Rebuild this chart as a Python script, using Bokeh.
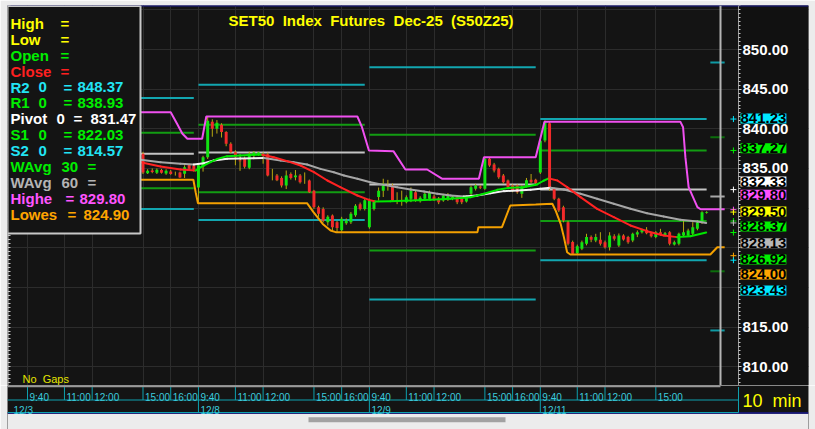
from bokeh.plotting import figure
from bokeh.layouts import column
from bokeh.models import (Range1d, FixedTicker, Grid, Span, Label, BoxAnnotation,
                          PrintfTickFormatter, LinearAxis)
from bokeh.core.properties import value
from bokeh.embed import file_html
from bokeh.resources import INLINE

# ======================= DATA =======================
NB = "\u00a0"
TITLE = f"SET50 {NB}Index {NB}Futures {NB}Dec-25 {NB}(S50Z25)"
BAR_LABEL = f"10 {NB}min"
GAP_LABEL = f"No {NB}Gaps"

# 10-minute OHLC bars, 37 bars per session day
opens_1203 = [838.5, 839.3, 840.1, 840.9, 841.6, 840.8, 839.9, 840.2, 839.3, 838.6,
              839.0, 838.1, 838.3, 837.4, 837.7, 836.8, 837.1, 836.2, 836.6, 837.2,
              836.7, 836.1, 836.5, 837.0, 836.6, 836.85, 834.4, 834.75, 834.45, 834.8,
              834.35, 834.6, 834.4, 834.5, 834.32, 835.46, 835.37]
highs_1203 = [839.6, 840.4, 841.2, 842.1, 841.9, 841.0, 840.5, 840.4, 839.6, 839.2,
              839.1, 838.5, 838.4, 837.9, 837.8, 837.3, 837.2, 836.9, 837.4, 837.5,
              837.0, 836.8, 837.3, 837.2, 837.1, 837.1, 834.9, 835.0, 835.0, 834.95,
              834.9, 834.8, 834.6, 834.6, 835.4, 835.6, 835.5]
lows_1203 = [838.2, 839.0, 839.8, 840.5, 840.6, 839.7, 839.5, 839.1, 838.4, 838.3,
             837.9, 837.6, 837.2, 837.0, 836.6, 836.5, 836.0, 835.8, 836.4, 836.5,
             835.9, 835.7, 836.3, 836.4, 836.3, 834.3, 834.3, 834.4, 834.3, 834.35,
             834.2, 834.2, 834.1, 833.8, 833.8, 834.8, 834.6]
closes_1203 = [839.3, 840.1, 840.9, 841.6, 840.8, 839.9, 840.2, 839.3, 838.6, 839.0,
               838.1, 838.3, 837.4, 837.7, 836.8, 837.1, 836.2, 836.6, 837.2, 836.7,
               836.1, 836.5, 837.0, 836.6, 836.85, 834.5, 834.7, 834.55, 834.85, 834.45,
               834.7, 834.3, 834.4, 833.85, 835.16, 834.95, 834.87]

opens_1208 = [832.6, 835.2, 836.4, 840.9, 840.0, 840.5, 839.6, 838.1, 837.05, 836.0,
              836.2, 835.1, 836.6, 836.8, 836.6, 836.8, 834.2, 834.1, 833.8, 832.85,
              834.3, 833.9, 834.1, 833.4, 833.48, 832.2, 830.1, 829.9, 828.2, 829.07,
              828.2, 827.2, 828.1, 828.2, 829.1, 830.5, 829.9]
highs_1208 = [835.6, 836.6, 841.6, 841.2, 841.1, 840.7, 839.7, 838.3, 837.3, 836.8,
              836.5, 837.1, 837.2, 837.1, 837.05, 837.0, 834.95, 834.3, 834.0, 834.74,
              834.5, 834.8, 834.3, 834.5, 833.6, 832.3, 830.3, 830.1, 829.1, 829.2,
              828.4, 828.9, 828.7, 829.5, 830.5, 830.7, 831.2]
lows_1208 = [830.7, 834.6, 836.2, 839.0, 839.4, 838.9, 837.8, 836.9, 835.4, 834.7,
             835.0, 834.9, 836.4, 836.6, 835.6, 834.0, 833.5, 833.4, 832.6, 832.4,
             833.6, 833.5, 833.1, 833.06, 831.9, 829.9, 828.9, 828.2, 827.8, 827.2,
             826.97, 827.0, 827.9, 828.0, 828.9, 829.7, 829.7]
closes_1208 = [835.4, 836.4, 841.0, 840.0, 840.75, 839.6, 838.1, 837.05, 836.4, 835.9,
               835.2, 836.9, 837.0, 837.0, 836.6, 834.1, 834.2, 833.5, 832.85, 834.1,
               833.8, 834.1, 833.27, 833.4, 832.0, 830.1, 829.3, 828.4, 828.9, 827.6,
               827.5, 828.65, 828.45, 829.3, 830.3, 829.9, 831.0]

opens_1209 = [827.6, 829.9, 831.4, 832.2, 832.8, 832.85, 831.3, 831.0, 830.75, 831.17,
              832.0, 830.87, 831.17, 831.17, 831.46, 831.17, 830.96, 831.04, 831.17, 831.38,
              831.17, 830.83, 831.8, 832.43, 832.72, 832.43, 836.21, 835.5, 834.95, 834.11,
              833.48, 832.85, 832.85, 831.8, 832.75, 833.56, 833.56]
highs_1209 = [831.2, 831.0, 832.6, 833.7, 833.56, 833.1, 832.0, 832.2, 831.6, 832.6,
              832.2, 831.5, 832.0, 832.2, 831.7, 831.4, 831.8, 831.9, 831.6, 831.5,
              831.3, 831.6, 832.85, 833.06, 832.9, 836.42, 836.42, 835.7, 835.1, 834.3,
              833.6, 833.0, 833.0, 832.9, 833.8, 834.3, 833.7]
lows_1209 = [827.4, 829.7, 830.96, 831.4, 832.2, 830.8, 830.5, 830.3, 830.6, 830.75,
             830.8, 830.7, 831.0, 831.0, 830.9, 830.5, 830.8, 830.9, 831.0, 830.5,
             830.5, 830.7, 831.38, 832.22, 832.4, 832.3, 835.2, 834.5, 833.7, 833.1,
             832.4, 832.0, 831.8, 831.29, 832.6, 833.1, 833.0]
closes_1209 = [830.96, 830.8, 832.2, 833.06, 832.8, 830.96, 831.3, 831.0, 831.38, 832.22,
               830.96, 831.29, 831.8, 832.0, 831.08, 830.75, 831.59, 831.67, 831.46, 830.75,
               830.75, 831.46, 832.64, 832.85, 832.56, 836.21, 835.37, 834.74, 833.9, 833.27,
               832.64, 832.22, 832.01, 832.72, 833.5, 833.27, 833.15]

opens_1211 = [834.5, 838.53, 840.7, 832.43, 831.17, 830.12, 828.23, 825.71, 824.3, 824.86,
              825.49, 826.34, 825.9, 826.0, 825.7, 825.07, 826.46, 825.28, 826.55, 826.34,
              825.9, 826.67, 826.96, 827.26, 826.84, 826.34, 826.96, 826.55, 826.96, 825.41,
              825.49, 826.55, 826.55, 826.76, 827.39, 828.23, 829.4]
highs_1211 = [838.7, 841.05, 840.96, 832.6, 831.3, 830.3, 828.4, 825.9, 825.4, 825.9,
              826.76, 826.55, 826.76, 826.96, 825.9, 826.96, 826.7, 826.8, 826.7, 826.5,
              826.9, 827.18, 827.4, 827.6, 827.0, 827.1, 827.39, 827.0, 827.1, 825.9,
              826.9, 828.44, 827.4, 828.23, 828.4, 829.6, 829.6]
lows_1211 = [834.3, 838.3, 832.2, 831.0, 829.5, 828.2, 825.3, 824.15, 824.15, 824.7,
             825.3, 825.7, 825.7, 825.28, 824.9, 824.65, 825.9, 825.1, 825.9, 825.5,
             825.7, 826.34, 826.8, 826.7, 826.3, 826.2, 826.5, 826.4, 825.3, 825.28,
             825.3, 826.34, 826.4, 826.6, 827.2, 828.0, 829.3]
closes_1211 = [838.5, 840.84, 832.43, 831.17, 829.7, 828.44, 825.5, 824.24, 825.2, 825.7,
               826.34, 826.0, 826.34, 825.49, 825.07, 826.55, 826.13, 826.55, 826.04, 825.7,
               826.76, 826.96, 827.26, 826.84, 826.46, 826.96, 826.67, 826.84, 825.49, 825.7,
               826.76, 826.96, 827.18, 827.6, 828.23, 829.49, 829.5]

opens = opens_1203 + opens_1208 + opens_1209 + opens_1211
highs = highs_1203 + highs_1208 + highs_1209 + highs_1211
lows = lows_1203 + lows_1208 + lows_1209 + lows_1211
closes = closes_1203 + closes_1208 + closes_1209 + closes_1211

# time axis (bar index of each tick)
time_tick_idx = [0, 8, 14, 25, 31, 37, 45, 51, 62, 68, 74, 82, 88, 99, 105, 111, 119, 125, 136]
time_tick_labels = ["9:40", "11:00", "12:00", "15:00", "16:00",
                    "9:40", "11:00", "12:00", "15:00", "16:00",
                    "9:40", "11:00", "12:00", "15:00", "16:00",
                    "9:40", "11:00", "12:00", "15:00"]
date_tick_idx = [0, 37, 74, 111]
date_labels = ["12/3", "12/8", "12/9", "12/11"]

# daily floor pivots (first bar, last bar of each session)
pivot_start = [0, 37, 74, 111]
pivot_end = [36, 73, 110, 147]
r2 = [843.9, 845.55, 847.77, 841.23]
r1 = [839.5, 840.5, 839.24, 837.27]
pv = [836.85, 837.0, 832.98, 832.33]
s1 = [832.5, 832.0, 824.65, 828.37]
s2 = [829.9, 828.5, 818.47, 823.43]
# next-session pivots (R2, R1, Pivot, S1, S2)
next_start, next_end = 147.8, 150.9
next_levels = [848.37, 838.93, 831.47, 822.03, 814.57]

# weighted averages (bar index, price)
wavg30_x = [24.5, 28.8, 33.1, 36.4, 37.8, 39.6, 41.1, 43.2, 46.1, 49.0, 50.8, 53.3, 56.2, 59.1,
            62.0, 64.9, 67.7, 71.4, 73.9, 75.3, 78.6, 82.9, 87.2, 91.6, 95.9, 98.8, 101.7,
            104.5, 107.4, 110.3, 111.7, 112.8, 114.7, 116.8, 119.7, 123.3, 126.9, 130.5,
            134.1, 137.7, 140.6, 143.5, 146.9]
wavg30_y = [835.79, 835.25, 834.87, 834.74, 835.25, 835.79, 836.21, 836.55, 836.63, 836.72,
            836.74, 836.42, 835.92, 835.37, 834.53, 833.48, 832.64, 831.59, 831.04, 830.83,
            830.85, 830.96, 831.04, 831.17, 831.38, 831.8, 832.3, 832.56, 832.64, 832.98,
            833.45, 833.75, 833.48, 832.64, 831.38, 829.91, 828.86, 827.81, 827.09, 826.55,
            826.34, 826.46, 826.92]
wavg60_x = [24.5, 28.8, 33.1, 36.0, 38.2, 40.3, 43.2, 46.1, 49.0, 51.2, 54.8, 57.6, 60.5, 63.4,
            66.3, 68.5, 71.4, 74.2, 77.1, 80.0, 82.9, 85.8, 88.7, 91.6, 94.4, 97.3, 100.2,
            103.1, 106.0, 108.9, 111.0, 113.2, 116.1, 119.7, 123.3, 126.9, 130.5, 134.1,
            137.7, 141.3, 145.0, 146.9]
wavg60_y = [836.09, 835.79, 835.58, 835.5, 835.67, 836.0, 836.21, 836.26, 836.3, 836.31,
            836.0, 835.79, 835.5, 834.95, 834.53, 834.11, 833.69, 833.27, 832.93, 832.64,
            832.35, 832.09, 831.8, 831.59, 831.46, 831.59, 831.88, 832.14, 832.22, 832.3,
            832.43, 832.56, 832.35, 831.8, 831.17, 830.54, 829.91, 829.36, 828.94, 828.52,
            828.31, 828.13]
# highest high / lowest low channel
highe_x = [24.5, 31.0, 32.4, 33.5, 34.6, 37.8, 38.7, 71.4, 72.4, 73.9, 79.2, 81.8, 86.5, 89.8,
           97.7, 98.8, 110.0, 111.9, 141.3, 141.9, 142.4, 143.1, 145.0, 145.7, 150.9]
highe_y = [842.1, 842.1, 840.6, 839.4, 838.74, 838.74, 841.55, 841.55, 840.2, 837.26, 837.18,
           834.87, 834.87, 833.69, 833.69, 836.42, 836.42, 840.9, 840.9, 840.2, 836.42, 832.64,
           830.12, 829.85, 829.85]
lowes_x = [24.5, 35.9, 36.4, 36.9, 60.5, 61.9, 63.9, 65.6, 66.7, 97.4, 97.6, 102.7, 104.5,
           110.0, 113.6, 114.3, 115.4, 116.1, 116.8, 117.5, 147.8, 149.3, 150.9]
lowes_y = [833.57, 833.57, 832.0, 830.62, 830.62, 829.5, 828.0, 827.18, 826.97, 826.97, 827.6,
           827.6, 830.33, 830.45, 830.55, 829.7, 828.02, 826.34, 824.44, 824.15, 824.15, 825.07,
           825.07]

# price tags on the right scale
price_tag_values = [841.23, 837.27, 832.33, 829.80, 829.50, 828.37, 828.13, 826.92, 824.00, 823.43]
price_tag_colors = ["#00e8ff", "#00f000", "#ffffff", "#ff50ff", "#ffff00",
                    "#00f000", "#b8b8b8", "#00f000", "#ffa500", "#00e8ff"]

# legend block
legend_names = ["High", "Low", "Open", "Close", "R2", "R1", "Pivot", "S1", "S2",
                "WAvg", "WAvg", "Highe", "Lowes"]
legend_params = ["", "", "", "", "0", "0", "0", "0", "0", "30", "60", "", ""]
legend_values = ["", "", "", "", "848.37", "838.93", "831.47", "822.03", "814.57",
                 "", "", "829.80", "824.90"]
legend_colors = ["#ffff00", "#ffff00", "#00ee00", "#ff2020", "#22e4f4", "#00ee00", "#ffffff",
                 "#00ee00", "#22e4f4", "#00ee00", "#b4b4b4", "#ff55ff", "#ffa500"]

y_ticks = [810, 815, 835, 840, 845, 850]
grid_prices = [810, 815, 820, 825, 830, 835, 840, 845, 850, 855]

# ======================= LAYOUT / STYLE =======================
PPB = 4.62                       # pixels per bar
PAGE_W = 815
EDGE_L, EDGE_R, EDGE_T = 7, 7, 5  # window chrome
FRAME_W = PAGE_W - EDGE_L - EDGE_R
FRAME_H = 380
STRIP_H = 44
X_START = (EDGE_L - 27) / PPB
X_END = X_START + FRAME_W / PPB
AXIS_IDX = (738 - 27) / PPB      # plot edge / price scale position
Y_BOTTOM, Y_TOP = 807.629, 855.549
CURSOR_IDX = 150
TAG_X_IDX = 152.8
# stacked display positions of the right-hand price tags
price_tag_pos = [841.30, 837.55, 833.35, 831.68, 829.57, 827.68, 825.57, 823.52, 821.63, 819.61]
# page-x of legend pieces
legend_param_x = [0, 0, 0, 0, 38, 38, 56, 38, 38, 61, 61, 0, 0]
legend_eq_x = [60, 60, 60, 60, 63, 63, 73, 63, 63, 87, 87, 65, 67]
legend_value_x = [0, 0, 0, 0, 77, 77, 90, 77, 77, 0, 0, 79, 83]

BG = "#141414"
AXIS_BG = "#111111"
CHROME = "#ececec"
NAVY = "#1a1a8c"
GRID = "#2c2c2c"
UP, DOWN, WICK = "#12e412", "#f22a2a", "#b8a810"
TEAL, DGREEN, PIV = "#12a6b0", "#129c12", "#c4c4c4"
TEAL2, DGREEN2, PIV2 = "#0f9aa4", "#0b6e0b", "#a8a8a8"
CYAN_AX, AX_TXT = "#0ea0ae", "#3ccbdc"
FONT = "Liberation Sans"

# ======================= MAIN CHART =======================
x_rng = Range1d(X_START, X_END)
p = figure(width=PAGE_W, height=FRAME_H + EDGE_T,
           x_range=x_rng, y_range=Range1d(Y_BOTTOM, Y_TOP),
           x_axis_location=None, y_axis_location=None,
           toolbar_location=None, output_backend="svg",
           min_border_left=EDGE_L, min_border_right=EDGE_R, min_border_top=EDGE_T,
           min_border_bottom=0,
           background_fill_color=BG, border_fill_color=CHROME, outline_line_color=None)
p.grid.visible = False
p.add_layout(Grid(dimension=1, ticker=FixedTicker(ticks=grid_prices), grid_line_color=GRID))
p.add_layout(Grid(dimension=0, ticker=FixedTicker(ticks=time_tick_idx), grid_line_color=GRID))

# price-scale background and window top edge
p.quad(left=[AXIS_IDX], right=[X_END], bottom=[Y_BOTTOM], top=[Y_TOP],
       fill_color=AXIS_BG, line_color=None)
p.segment(x0=[X_START], y0=[Y_TOP], x1=[X_END], y1=[Y_TOP], line_color=NAVY, line_width=2)

ya = LinearAxis(fixed_location=AXIS_IDX,
                ticker=FixedTicker(ticks=y_ticks, minor_ticks=[808 + 0.5 * i for i in range(96)]),
                formatter=PrintfTickFormatter(format="%.2f"))
ya.major_label_text_font = FONT
ya.major_label_text_font_style = "bold"
ya.major_label_text_font_size = "15px"
ya.major_label_text_color = "#ffffff"
ya.major_label_standoff = 1
ya.major_tick_in, ya.major_tick_out = 0, 3
ya.minor_tick_in, ya.minor_tick_out = 0, 2
ya.axis_line_color = "#9a9a9a"
ya.major_tick_line_color = "#e0e0e0"
ya.minor_tick_line_color = "#c8c8c8"
p.add_layout(ya, "right")

# left edge scale (ticks only)
yl = LinearAxis(fixed_location=X_START,
                ticker=FixedTicker(ticks=[], minor_ticks=[808 + 0.5 * i for i in range(96)]))
yl.axis_line_color = "#c0c0c0"
yl.axis_line_width = 2
yl.minor_tick_in, yl.minor_tick_out = 3, 0
yl.minor_tick_line_color = "#c8c8c8"
yl.major_tick_line_color = None
p.add_layout(yl, "left")

# pivot levels
lx0, lx1, ly, lc = [], [], [], []
for i in range(len(pivot_start)):
    for lv, col in ((r2, TEAL), (r1, DGREEN), (pv, PIV), (s1, DGREEN), (s2, TEAL)):
        lx0.append(pivot_start[i]); lx1.append(pivot_end[i]); ly.append(lv[i]); lc.append(col)
for lv, col in zip(next_levels, [TEAL2, DGREEN2, PIV2, DGREEN2, TEAL2]):
    lx0.append(next_start); lx1.append(next_end); ly.append(lv); lc.append(col)
p.segment(x0=lx0, y0=ly, x1=lx1, y1=ly, line_color=lc, line_width=2)

# candles
bar_x = list(range(len(opens)))
body_top = [max(o, c) for o, c in zip(opens, closes)]
body_bot = [min(o, c) for o, c in zip(opens, closes)]
body_col = [UP if c > o else DOWN for o, c in zip(opens, closes)]
p.segment(x0=bar_x, y0=lows, x1=bar_x, y1=highs, line_color=WICK, line_width=1)
p.vbar(x=bar_x, width=0.64, top=body_top, bottom=body_bot, fill_color=body_col, line_color=None)


def sloped(xs, ys, up, down):
    cols = [up if ys[i + 1] >= ys[i] else down for i in range(len(xs) - 1)]
    p.segment(x0=xs[:-1], y0=ys[:-1], x1=xs[1:], y1=ys[1:], line_color=cols,
              line_width=2, line_cap="round")


sloped(wavg60_x, wavg60_y, "#f2f2f2", "#a6a6a6")
sloped(wavg30_x, wavg30_y, "#00e800", "#ff2222")
p.line(highe_x, highe_y, line_color="#f050f0", line_width=2)
p.line(lowes_x, lowes_y, line_color="#f4a000", line_width=2)

p.add_layout(Span(location=CURSOR_IDX, dimension="height", line_color="#b4b4b4", line_width=2))
p.scatter(x=[TAG_X_IDX] * len(price_tag_values), y=price_tag_values, marker="cross", size=6,
          line_color=price_tag_colors, line_width=1)

# price tags
for v, pos, col in zip(price_tag_values, price_tag_pos, price_tag_colors):
    p.add_layout(Label(x=740 - EDGE_L, y=pos, x_units="screen", y_units="data", text=f"{v:.2f}",
                       text_font=FONT, text_font_style="bold", text_font_size="15px",
                       text_color="#000000", text_baseline="middle", text_align="left",
                       background_fill_color=col))

# legend box
p.add_layout(BoxAnnotation(left=0, right=140 - EDGE_L, bottom=FRAME_H + EDGE_T - 233,
                           top=FRAME_H - 0.5,
                           left_units="screen", right_units="screen",
                           top_units="screen", bottom_units="screen",
                           fill_color=BG, fill_alpha=1.0, line_color="#c8c8c8",
                           line_alpha=1.0, line_width=2))


def page_label(txt, px, baseline_py, color, size="15px", style="bold"):
    p.add_layout(Label(x=px - EDGE_L, y=FRAME_H + EDGE_T - baseline_py,
                       x_units="screen", y_units="screen",
                       text=txt, text_font=FONT, text_font_style=style, text_font_size=size,
                       text_color=color, text_baseline="alphabetic", text_align="left"))


for i, name in enumerate(legend_names):
    base = 22.7 + 15.95 * i
    col = legend_colors[i]
    page_label(name, 10, base, col)
    if legend_params[i]:
        page_label(legend_params[i], legend_param_x[i], base, col)
    page_label("=", legend_eq_x[i], base, col)
    if legend_values[i]:
        page_label(legend_values[i], legend_value_x[i], base, col)

page_label(TITLE, 228, 20, "#ffff00")
page_label(GAP_LABEL, 22, 378.0, "#e4e400", size="11px", style="normal")

# ======================= TIME AXIS STRIP =======================
s = figure(width=PAGE_W, height=STRIP_H, x_range=x_rng, y_range=Range1d(STRIP_H, 0),
           x_axis_location=None, y_axis_location=None,
           toolbar_location=None, output_backend="svg",
           min_border_left=EDGE_L, min_border_right=EDGE_R, min_border_top=0,
           min_border_bottom=0,
           background_fill_color=BG, border_fill_color=CHROME, outline_line_color=None)
s.grid.visible = False

ROW_DIV, ROW_BOT, SCROLL_TOP = 14.5, 27.0, 28.3
s.quad(left=[X_START], right=[X_END], top=[SCROLL_TOP], bottom=[STRIP_H],
       fill_color=CHROME, line_color=None)
s.quad(left=[(308 - 27) / PPB], right=[(505 - 27) / PPB], top=[31.7], bottom=[36.7],
       fill_color="#a2a2a2", line_color=None)
s.segment(x0=[X_START], y0=[SCROLL_TOP - 0.7], x1=[X_END], y1=[SCROLL_TOP - 0.7],
          line_color=NAVY, line_width=1.5)
s.segment(x0=[X_START], y0=[0.8], x1=[CURSOR_IDX], y1=[0.8], line_color="#9a9a9a", line_width=2)
s.segment(x0=[X_START, X_START, AXIS_IDX], y0=[ROW_DIV, ROW_BOT, 1.5],
          x1=[AXIS_IDX, AXIS_IDX, AXIS_IDX], y1=[ROW_DIV, ROW_BOT, ROW_BOT],
          line_color=CYAN_AX, line_width=1)
s.segment(x0=time_tick_idx, y0=[1.5] * len(time_tick_idx), x1=time_tick_idx,
          y1=[ROW_DIV] * len(time_tick_idx), line_color=CYAN_AX, line_width=1)
s.segment(x0=date_tick_idx[1:], y0=[ROW_DIV] * 3, x1=date_tick_idx[1:], y1=[ROW_BOT] * 3,
          line_color=CYAN_AX, line_width=1)
s.text(x=time_tick_idx, y=[12.3] * len(time_tick_idx), text=time_tick_labels, x_offset=2,
       text_font=value(FONT), text_font_size="10px", text_color=AX_TXT,
       text_baseline="alphabetic", text_align="left")
s.text(x=[X_START] + date_tick_idx[1:], y=[25.0] * len(date_labels), text=date_labels,
       x_offset=[6, 2, 2, 2], text_font=value(FONT), text_font_size="10px", text_color=AX_TXT,
       text_baseline="alphabetic", text_align="left")
s.text(x=[AXIS_IDX], y=[15.0], text=[BAR_LABEL], x_offset=4, text_font=value(FONT),
       text_font_size="18px", text_color="#ffff00", text_baseline="alphabetic", text_align="left")

layout = column(p, s)
open("out.html", "w").write(file_html(layout, INLINE, title="SET50 Index Futures"))
